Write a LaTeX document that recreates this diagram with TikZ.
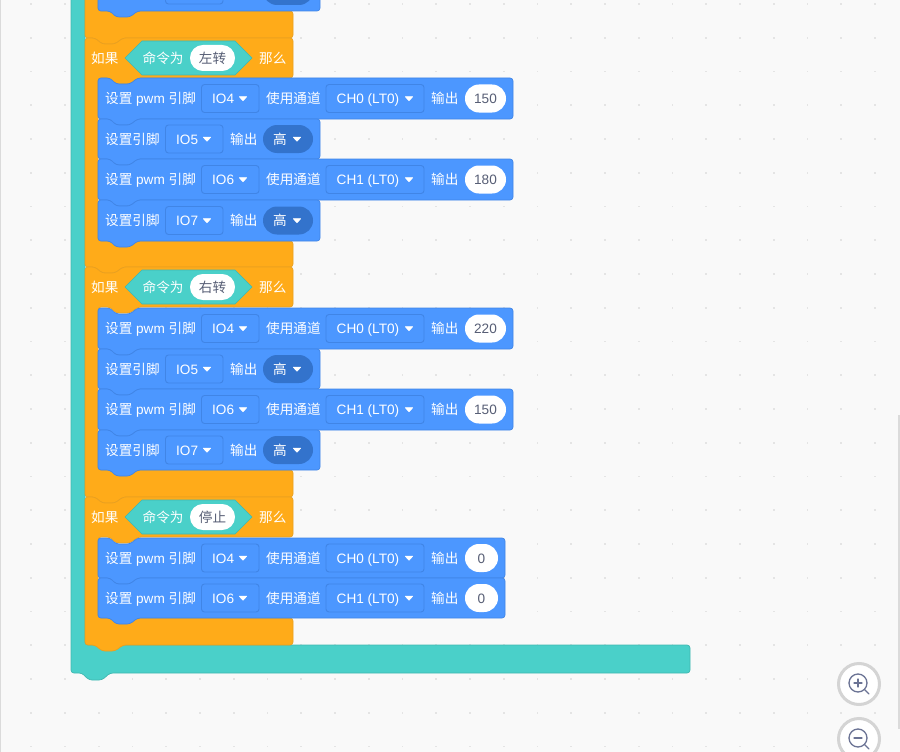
\documentclass[tikz,border=0pt]{standalone}
\usepackage{fontspec}
\setmainfont{Liberation Sans}
\newfontfamily\cjk{Noto Sans CJK SC}
\definecolor{bgc}{HTML}{F9F9F9}
\definecolor{dotc}{HTML}{E4E4E4}
\definecolor{tealf}{HTML}{4AD0C9}
\definecolor{teald}{HTML}{3FB8B1}
\definecolor{orf}{HTML}{FFAB19}
\definecolor{ord}{HTML}{E9A020}
\definecolor{bluef}{HTML}{4C97FF}
\definecolor{blued}{HTML}{4085E6}
\definecolor{pilld}{HTML}{3373CC}
\definecolor{greyt}{HTML}{575E75}
\definecolor{zoomc}{HTML}{6B7394}
\tikzset{
  lab/.style={inner sep=0pt,font=\fontsize{13.6}{14}\selectfont,text=white},
  labl/.style={lab,anchor=base west},
  labc/.style={lab,anchor=base},
  vallab/.style={labc,text=greyt},
  tealblock/.style={fill=tealf,draw=teald,line width=0.7pt,rounded corners=3pt},
  orblock/.style={fill=orf,draw=ord,line width=0.7pt,rounded corners=3pt},
  blueblock/.style={fill=bluef,draw=blued,line width=0.7pt,rounded corners=3pt},
  menubox/.style={fill=bluef,draw=blued,line width=0.9pt,rounded corners=3pt},
  darkpill/.style={fill=pilld,rounded corners=14pt},
  whitepill/.style={fill=white,rounded corners=13.9pt},
  arrowtip/.style={fill=white,draw=white,line width=0.8pt,line join=round},
  zoombtn/.style={circle,minimum size=41pt,inner sep=0pt,fill=white,draw=black!17,line width=3pt},
  zoomlens/.style={draw=zoomc,line width=1.3pt,line cap=round},
}
\newcount\nameno
\newcommand{\putl}[3]{\global\advance\nameno by 1 \node[labl] (t\the\nameno) at (#1,#2+5.4) {#3};}
\newcommand{\putc}[3]{\global\advance\nameno by 1 \node[labc] (t\the\nameno) at (#1,#2+5.4) {#3};}
\newcommand{\putv}[3]{\global\advance\nameno by 1 \node[vallab] (t\the\nameno) at (#1,#2+5.4) {#3};}
\newcommand{\tip}[2]{\path[arrowtip] (#1-3.6,#2-1.8) -- (#1+3.6,#2-1.8) -- (#1,#2+2.2) -- cycle;}
\newcommand{\menubx}[4]{\path[menubox] (#1,#3-14) rectangle (#2,#3+14); \putl{#1+10.5}{#3}{#4}}
\newcommand{\blueb}[3]{%
 \path[blueblock] (98,#2) -- (110,#2) -- (116,#2+6) -- (130,#2+6) -- (137.5,#2) -- (#1,#2) -- (#1,#3)
   -- (137.5,#3) -- (130,#3+6) -- (116,#3+6) -- (110,#3) -- (98,#3) -- cycle;}
\newcommand{\pwmrow}[7]{% y0 y1 x1 IO CH val pillright
 \blueb{#3}{#1}{#2}
 \pgfmathsetmacro{\cy}{(#1+#2)/2}
 \putl{105}{\cy}{{\cjk 设置} pwm {\cjk 引脚}}
 \menubx{201.5}{259}{\cy}{#4}\tip{243}{\cy}
 \putl{266}{\cy}{{\cjk 使用通道}}
 \menubx{326}{424}{\cy}{#5}\tip{409}{\cy}
 \putl{431}{\cy}{{\cjk 输出}}
 \path[whitepill] (465,\cy-14) rectangle (#7,\cy+14);
 \pgfmathsetmacro{\cx}{(465+#7)/2}
 \putv{\cx}{\cy}{#6}}
\newcommand{\iorow}[3]{% y0 y1 IO
 \blueb{320}{#1}{#2}
 \pgfmathsetmacro{\cy}{(#1+#2)/2}
 \putl{105}{\cy}{{\cjk 设置引脚}}
 \menubx{165.5}{223}{\cy}{#3}\tip{207}{\cy}
 \putl{230}{\cy}{{\cjk 输出}}
 \path[darkpill] (263,\cy-14) rectangle (313,\cy+14);
 \putc{280}{\cy}{{\cjk 高}}\tip{297}{\cy}}
\newcommand{\ifblock}[4]{% y0 inner-bottom arm-bottom word
 \path[orblock] (85,#1) -- (95,#1) -- (102,#1+6) -- (115,#1+6) -- (123,#1) -- (293,#1) -- (293,#1+40)
   -- (138,#1+40) -- (130,#1+46) -- (116,#1+46) -- (110,#1+40) -- (98,#1+40) -- (98,#2) -- (293,#2) -- (293,#3)
   -- (123,#3) -- (115,#3+6) -- (102,#3+6) -- (95,#3) -- (85,#3) -- cycle;
 \pgfmathsetmacro{\cy}{#1+20}
 \putl{91}{\cy}{{\cjk 如果}}
 \path[fill=tealf,draw=teald,line width=0.6pt] (125,\cy) -- (142,\cy-17) -- (235,\cy-17) -- (252,\cy) -- (235,\cy+17) -- (142,\cy+17) -- cycle;
 \putl{142.5}{\cy}{{\cjk 命令为}}
 \path[whitepill,rounded corners=12.9pt] (190,\cy-13) rectangle (235,\cy+13);
 \putv{212.5}{\cy}{{\cjk #4}}
 \putl{259}{\cy}{{\cjk 那么}}}
\begin{document}
\begin{tikzpicture}[x=1pt,y=-1pt]
\useasboundingbox (0,0) rectangle (900,752);
\clip (0,0) rectangle (900,752);
\fill[bgc] (0,0) rectangle (900,752);
\fill[black!14] (0,0) rectangle (1,752);
\foreach \i in {0,...,26}{\foreach \j in {0,...,22}{
  \fill[dotc] ({31.25+33.75*\i-0.8},{4+33.75*\j-0.8}) rectangle ++(1.6,1.6);}}
\fill[black!14] (898,415) rectangle (900,729);
% outer teal C block
\path[tealblock] (71,-20) -- (85,-20) -- (85,645) -- (690,645) -- (690,673) -- (110,673) -- (102,680) -- (89,680) -- (82,673) -- (71,673) -- cycle;
% previous orange arm
\path[orblock] (85,-20) -- (98,-20) -- (98,11) -- (293,11) -- (293,38) -- (123,38) -- (115,44) -- (102,44) -- (95,38) -- (85,38) -- cycle;
% previous blue row, cut by the page top
\blueb{320}{-30}{11}
\path[menubox] (165.5,-23) rectangle (223,4);
\path[darkpill] (263,-23) rectangle (313,5);
% if blocks
\ifblock{38}{241}{267}{左转}
\pwmrow{78}{119}{513}{IO4}{CH0 (LT0)}{150}{506}
\iorow{119}{159}{IO5}
\pwmrow{159}{200}{513}{IO6}{CH1 (LT0)}{180}{506}
\iorow{200}{241}{IO7}
\ifblock{267}{470}{497}{右转}
\pwmrow{308}{349}{513}{IO4}{CH0 (LT0)}{220}{506}
\iorow{349}{389}{IO5}
\pwmrow{389}{430}{513}{IO6}{CH1 (LT0)}{150}{506}
\iorow{430}{470}{IO7}
\ifblock{497}{618}{645}{停止}
\pwmrow{538}{578}{505}{IO4}{CH0 (LT0)}{0}{498}
\pwmrow{578}{618}{505}{IO6}{CH1 (LT0)}{0}{498}
% zoom buttons
\node[zoombtn] (zoomin) at (859,684) {};
\node[zoombtn] (zoomout) at (859,739) {};
\draw[zoomlens] (858,683) circle (9);
\draw[zoomlens] (864.5,689.5) -- (869,694);
\draw[zoomlens] (854,683) -- (862,683) (858,679) -- (858,687);
\draw[zoomlens] (858,738) circle (9);
\draw[zoomlens] (864.5,744.5) -- (869,749);
\draw[zoomlens] (854,738) -- (862,738);
\end{tikzpicture}
\end{document}
